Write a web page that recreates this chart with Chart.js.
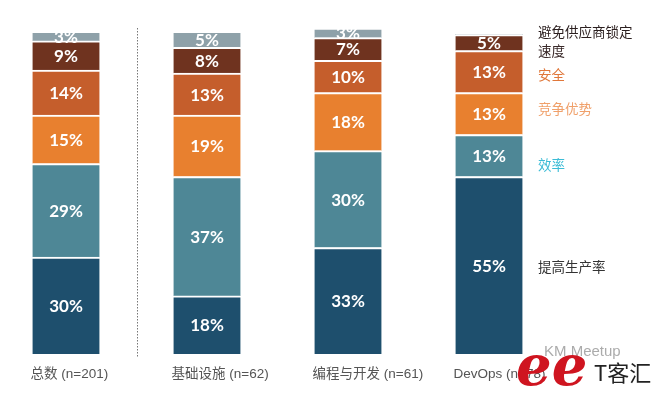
<!DOCTYPE html>
<html>
<head>
<meta charset="utf-8">
<script src="https://cdn.jsdelivr.net/npm/chart.js@4.4.1/dist/chart.umd.min.js"></script>
<style>
  html, body { margin: 0; padding: 0; background: #fff; }
  #wrap { width: 659px; height: 398px; }
</style>
</head>
<body>
<div id="wrap"><canvas id="myChart" width="659" height="398"></canvas></div>
<script>
// categories and shares (%), bottom segment first
const categories = ['总数 (n=201)', '基础设施 (n=62)', '编程与开发 (n=61)', 'DevOps (n=78)'];
const seriesNames = ['提高生产率', '效率', '竞争优势', '安全', '速度', '避免供应商锁定'];
const productivity = [30, 18, 33, 55];
const efficiency = [29, 37, 30, 13];
const competitive = [15, 19, 18, 13];
const security = [14, 13, 10, 13];
const speed = [9, 8, 7, 5];
const lockIn = [3, 5, 3, 0];

const seriesValues = [productivity, efficiency, competitive, security, speed, lockIn];
const barColors = ['#1e4f6d', '#4e8796', '#e8802f', '#c55e2c', '#6f331f', '#8ea1a9'];
// legend text colours, in the same order as seriesNames
const legendColors = ['#333333', '#3cbcd6', '#f0a06a', '#e0773a', '#3a2a2a', '#2b1f1f'];
const legendY = [267, 165, 109, 75, 51, 32];

const labelsPlugin = {
  id: 'labels',
  beforeDatasetsDraw(chart) {
    const ctx = chart.ctx;
    const x = chart.scales.x;
    const area = chart.chartArea;
    // dotted divider between the total and the groups
    const dx = Math.round((x.getPixelForValue(0) + x.getPixelForValue(1)) / 2) + 0.5;
    ctx.save();
    ctx.strokeStyle = '#777777';
    ctx.lineWidth = 1;
    ctx.setLineDash([1.5, 1.5]);
    ctx.beginPath();
    ctx.moveTo(dx, area.top);
    ctx.lineTo(dx, area.bottom + 4);
    ctx.stroke();
    ctx.restore();
  },
  afterDatasetsDraw(chart) {
    const ctx = chart.ctx;
    const area = chart.chartArea;
    ctx.save();
    // percentage labels in each segment
    ctx.beginPath();
    ctx.rect(0, area.top, chart.width, chart.height);
    ctx.clip();
    ctx.fillStyle = '#ffffff';
    ctx.font = 'bold 17px Lato, "Open Sans", sans-serif';
    ctx.textAlign = 'center';
    ctx.textBaseline = 'middle';
    chart.data.datasets.forEach((ds, i) => {
      const meta = chart.getDatasetMeta(i);
      meta.data.forEach((bar, j) => {
        const v = ds.data[j];
        if (!v) return;
        ctx.fillText(v + '%', bar.x, (bar.y + bar.base) / 2 + 1);
      });
    });
    ctx.restore();

    ctx.save();
    // category labels, left aligned under each bar
    ctx.font = '13.5px "Liberation Sans", "Noto Sans CJK SC", sans-serif';
    ctx.fillStyle = '#555555';
    ctx.textAlign = 'left';
    ctx.textBaseline = 'middle';
    const meta0 = chart.getDatasetMeta(0);
    meta0.data.forEach((bar, j) => {
      ctx.fillText(categories[j], bar.x - bar.width / 2 - 2, 374);
    });

    // series names on the right
    ctx.font = '13.5px "Noto Sans CJK SC", sans-serif';
    seriesNames.forEach((name, i) => {
      ctx.fillStyle = legendColors[i];
      ctx.fillText(name, 538, legendY[i]);
    });

    // watermark
    ctx.font = '15px "Liberation Sans", sans-serif';
    ctx.fillStyle = 'rgba(150,150,150,0.8)';
    ctx.fillText('KM Meetup', 544, 352);
    ctx.font = 'italic bold 56px "DejaVu Serif", serif';
    ctx.fillStyle = '#cf1520';
    ctx.fillText('ee', 516, 370);
    ctx.font = '22px "Noto Sans CJK SC", sans-serif';
    ctx.fillStyle = '#222222';
    ctx.fillText('T客汇', 594, 373);
    ctx.restore();
  }
};

new Chart(document.getElementById('myChart').getContext('2d'), {
  type: 'bar',
  data: {
    labels: categories,
    datasets: seriesNames.map((name, i) => ({
      label: name,
      data: seriesValues[i],
      backgroundColor: barColors[i],
      borderColor: '#ffffff',
      borderWidth: { top: 2, bottom: 0, left: 0, right: 0 },
      borderSkipped: false,
      barThickness: 67,
      clip: false
    }))
  },
  options: {
    responsive: false,
    animation: false,
    layout: { padding: { left: 66, right: 170, top: 28, bottom: 44 } },
    scales: {
      x: { stacked: true, display: false, offset: false },
      y: { stacked: true, display: false, min: 0, max: 101 }
    },
    plugins: {
      legend: { display: false },
      tooltip: { enabled: false }
    }
  },
  plugins: [labelsPlugin]
});
</script>
</body>
</html>
